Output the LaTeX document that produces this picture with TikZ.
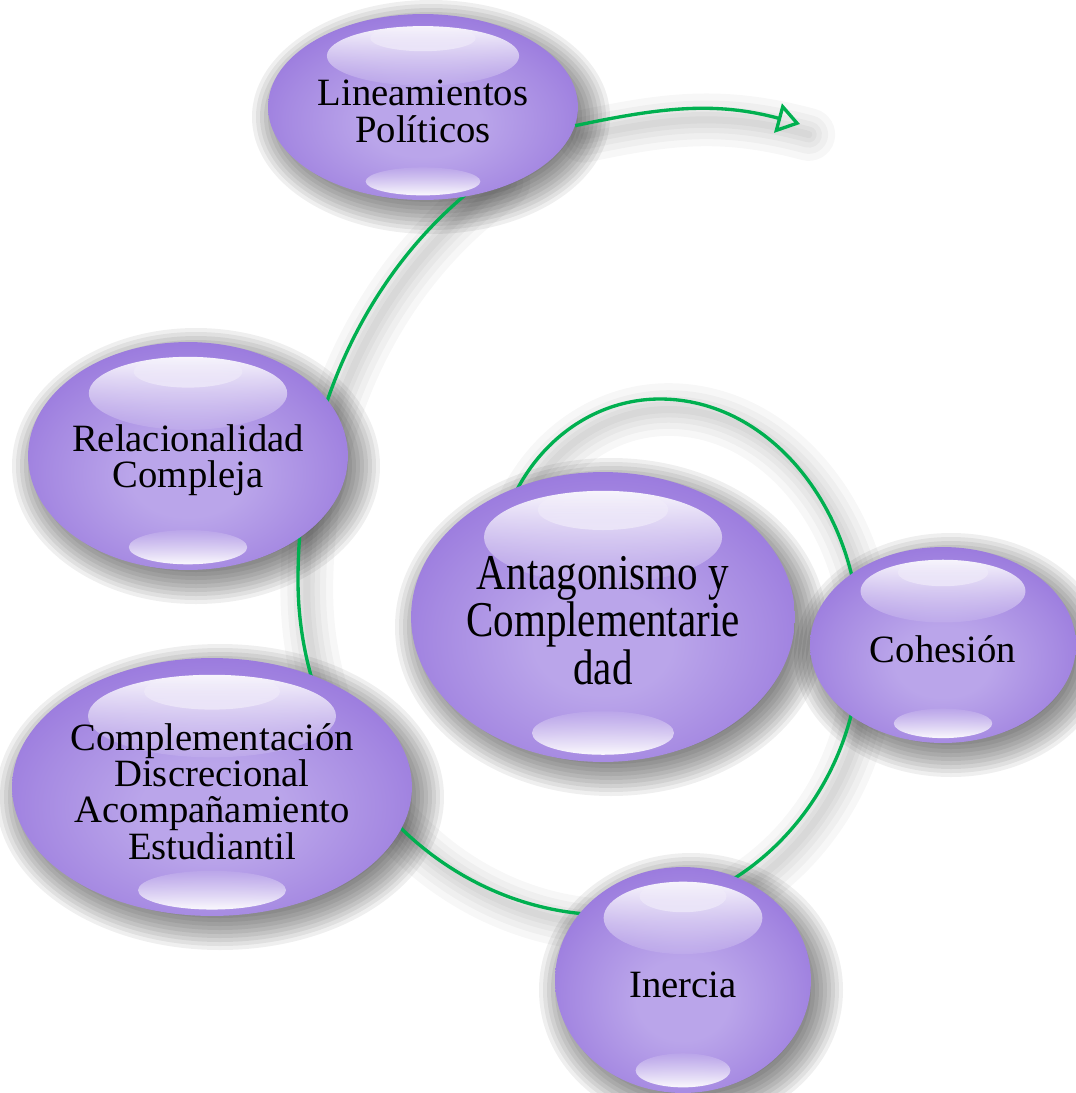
\documentclass[tikz,border=0pt]{standalone}
\usepackage{fontspec}
\setmainfont{Liberation Serif}
\newfontfamily\condfont[FakeStretch=0.82]{Liberation Serif}
\usetikzlibrary{shapes.geometric,fadings,arrows.meta}
\pgfdeclarelayer{bgl}
\pgfdeclarelayer{shadowl}
\pgfdeclarelayer{linel}
\pgfsetlayers{bgl,shadowl,linel,main}
\definecolor{bedge}{RGB}{147,112,219}
\definecolor{bmid}{RGB}{166,138,226}
\definecolor{bcenter}{RGB}{186,165,234}
\definecolor{sgreen}{RGB}{0,176,80}
\pgfdeclareradialshading{bubbleshade}{\pgfpoint{0bp}{-5bp}}{color(0bp)=(bcenter); color(9bp)=(bcenter); color(22bp)=(bmid); color(33bp)=(bedge); color(80bp)=(bedge)}
\tikzfading[name=topfade, top color=transparent!8, bottom color=transparent!92]
\tikzfading[name=botfade, top color=transparent!92, bottom color=transparent!5]
\tikzset{
  bubble/.style={ellipse, shading=bubbleshade, inner sep=0pt, draw=none},
  nshadow/.style={fill=black, opacity=0.062},
  lbl/.style={align=center, inner sep=0pt, font=\fontsize{22}{20.7}\selectfont, yshift=-2.5pt},
  biglbl/.style={align=center, inner sep=0pt, font=\fontsize{28.5}{23.8}\condfont, yshift=-2pt},
  spiral/.style={draw=sgreen, line width=1.9pt},
  lineshadow/.style={draw=black, opacity=0.03, line cap=round, transform canvas={shift={(5pt,-6pt)}}},
  arrowline/.style={draw=sgreen, line width=1.9pt, -{Triangle[open, length=13pt, width=17pt]}}
}
\newcommand\mybubble[7]{%
  \begin{pgfonlayer}{shadowl}
    \foreach \e in {24,20,...,-12} {
      \path[nshadow] ({#2+8},{#3+10}) ellipse ({(#4+\e)*0.02cm} and {(#5+\e)*0.02cm});
    }
  \end{pgfonlayer}
  \node[bubble, minimum width={#4*0.04cm}, minimum height={#5*0.04cm}] (#1) at (#2,#3) {};
  \fill[white, path fading=topfade] (#2,{#3-0.55*#5}) ellipse ({0.62*#4*0.02cm} and {0.32*#5*0.02cm});
  \fill[white, opacity=0.45, path fading=north] (#2,{#3-0.74*#5}) ellipse ({0.34*#4*0.02cm} and {0.14*#5*0.02cm});
  \fill[white, path fading=botfade] (#2,{#3+0.80*#5}) ellipse ({0.37*#4*0.02cm} and {0.15*#5*0.02cm});
  \node[#6] (#1-t) at (#2,#3) {#7};
}
\begin{document}
\begin{tikzpicture}[x=0.02cm, y=-0.02cm]
\useasboundingbox (0,0) rectangle (1076,1093);
\begin{pgfonlayer}{bgl}
  \fill[white] (0,0) rectangle (1076,1093);
\end{pgfonlayer}

% spiral key points
\coordinate (sp0) at (495,580);
\coordinate (sp1) at (660,399);
\coordinate (sp2) at (860,645);
\coordinate (sp3) at (610,915);
\coordinate (sp4) at (298,580);
\coordinate (sp5) at (495,172);
\coordinate (aend) at (800,124);

\newcommand\spiralpath{(sp0) .. controls +(0,-100) and +(-91,0) .. (sp1)
  .. controls +(110,0) and +(0,-135) .. (sp2)
  .. controls +(0,146) and +(137,0) .. (sp3)
  .. controls +(-172,0) and +(0,184) .. (sp4)
  .. controls +(0,-170) and +(-123,86) .. (sp5)}

\mybubble{lin}{423}{107}{155}{93}{lbl}{Lineamientos\\Políticos}
\mybubble{rel}{188}{456}{160}{114}{lbl}{Relacionalidad\\Compleja}
\mybubble{comp}{212}{787}{200}{129}{lbl}{Complementación\\Discrecional\\Acompañamiento\\Estudiantil}
\mybubble{ant}{603}{617}{192}{145}{biglbl}{Antagonismo y\\Complementarie\\dad}
\mybubble{coh}{943}{645}{133}{98}{lbl}{Cohesión}
\mybubble{iner}{683}{980}{128}{113}{lbl}{Inercia}

\begin{pgfonlayer}{shadowl}
  \foreach \w in {30,22,15,9,4} {
    \path[lineshadow, line width=\w pt] \spiralpath;
    \path[lineshadow, line width=\w pt] (lin.-7) to[out=12, in=165] (aend);
  }
\end{pgfonlayer}
\begin{pgfonlayer}{linel}
  \path[spiral] \spiralpath;
\end{pgfonlayer}
\draw[arrowline] (lin.-7) to[out=12, in=165] (aend);
\end{tikzpicture}
\end{document}
